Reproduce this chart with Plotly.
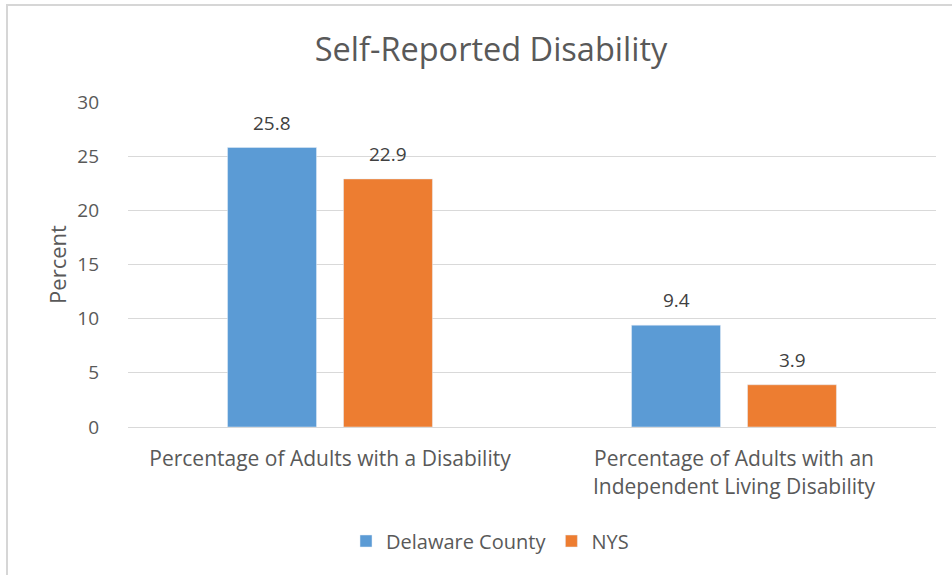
import plotly.graph_objects as go

categories = ["Percentage of Adults with a Disability",
              "Percentage of Adults with an<br>Independent Living Disability"]
delaware = [25.8, 9.4]
nys = [22.9, 3.9]
y_ticks = [0, 5, 10, 15, 20, 25, 30]

W, H = 952, 575
L, R, T, B = 128, 16, 102, 148
pw, ph = W - L - R, H - T - B

font_fam = "'Open Sans', sans-serif"
txt = "#595959"

fig = go.Figure()
fig.add_trace(go.Bar(name="Delaware County", x=categories, y=delaware,
                     marker_color="#5B9BD5"))
fig.add_trace(go.Bar(name="NYS", x=categories, y=nys,
                     marker_color="#ED7D31"))

# value labels above the bars
for vals, shift in ((delaware, -58), (nys, 58)):
    for c, v in zip(categories, vals):
        fig.add_annotation(x=c, y=v, text=f"{v:.1f}", showarrow=False,
                           xshift=shift, yshift=25, yanchor="middle",
                           font=dict(size=19, color="#404040"))

fig.update_layout(
    width=W, height=H,
    margin=dict(l=L, r=R, t=T, b=B),
    paper_bgcolor="white", plot_bgcolor="white",
    font=dict(family=font_fam, color=txt, size=18),
    barmode="group", bargap=0.426, bargroupgap=0.233,
    title=dict(text="Self-Reported Disability", x=491 / W, xanchor="center",
               y=1 - 50 / H, yanchor="middle", font=dict(size=32.5, color=txt)),
    showlegend=True,
    legend=dict(orientation="h", x=(490 - L) / pw, xanchor="center",
                y=-(541 - (T + ph)) / ph, yanchor="middle",
                font=dict(size=20, color=txt), itemwidth=30, traceorder="normal"),
    xaxis=dict(showline=True, linecolor="#d9d9d9", linewidth=1,
               tickfont=dict(size=21, color=txt), ticks="", ticklabelstandoff=13),
    yaxis=dict(range=[0, 30], tickvals=y_ticks, showgrid=True, gridcolor="#d9d9d9",
               gridwidth=1, zeroline=False, showline=False,
               tickfont=dict(size=19, color=txt), ticklabelstandoff=28,
               title=dict(text="Percent", font=dict(size=22, color=txt), standoff=4)),
)

# outer chart border (top and left edges visible), drawn in pixel units
fig.add_shape(type="rect", xref="paper", yref="paper", xsizemode="pixel", ysizemode="pixel",
              xanchor=0, yanchor=1, x0=6 - L, x1=W + 10 - L,
              y0=T - 6, y1=T - 4,
              line=dict(width=0), fillcolor="#d6d6d6", layer="above")
fig.add_shape(type="rect", xref="paper", yref="paper", xsizemode="pixel", ysizemode="pixel",
              xanchor=0, yanchor=1, x0=6 - L, x1=8 - L,
              y0=-(ph + B + 10), y1=T - 4,
              line=dict(width=0), fillcolor="#d6d6d6", layer="above")

fig.write_html("out.html", config={"displayModeBar": False},
               post_script="document.body.style.margin='0';")
